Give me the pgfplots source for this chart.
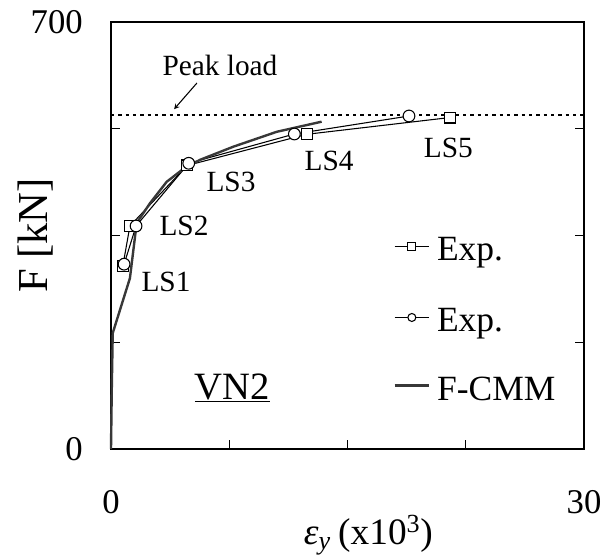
\documentclass[border=0pt]{standalone}
\usepackage{fontspec}
\setmainfont{Liberation Serif}
\usepackage{pgfplots}
\pgfplotsset{compat=1.18}
\begin{document}
\begin{tikzpicture}
\begin{axis}[
  scale only axis,
  width=354.75pt, height=320.25pt,
  xmin=0, xmax=30, ymin=0, ymax=700,
  axis line style={line width=1.1pt},
  xtick={0,7.5,15,22.5,30}, xticklabels={0,,,,30},
  ytick={0,175,350,525,700}, yticklabels={0,,,,700},
  xtick pos=bottom, ytick pos=both,
  tick align=inside,
  major tick length=6.75pt,
  every tick/.style={line width=0.9pt, black},
  /pgf/number format/assume math mode=true,
  ticklabel style={font=\fontsize{26}{26}\selectfont},
  yticklabel style={anchor=east, inner sep=0pt, xshift=-21pt},
  xticklabel style={anchor=north, inner sep=0pt, yshift=-31pt},
  xlabel={\textit{ε}\textsubscript{\textit{y}}\hspace{0.2em}(x10\textsuperscript{3})},
  ylabel={F [kN]},
  xlabel style={font=\fontsize{28}{28}\selectfont, at={(axis description cs:0.681,-0.2248)}, anchor=base east, inner sep=0pt},
  ylabel style={font=\fontsize{32}{32}\selectfont, at={(axis description cs:-0.1332,0.5)}, rotate=0, anchor=base, inner sep=0pt},
  legend style={draw=none, fill=none, inner sep=0pt, at={(axis cs:17.89,339)}, anchor=north west,
    font=\fontsize{26.6}{26.6}\selectfont, row sep=39pt, column sep=5pt,
    nodes={inner sep=0pt, text height=0.7em, text depth=0.05em}},
  legend cell align=left,
  legend image code/.code={\draw[#1, mark size=3pt, mark repeat=2, mark phase=2] plot coordinates {(0pt,7.5pt) (13pt,7.5pt) (26pt,7.5pt)};},
  clip=false,
]
\addplot[black, line width=0.8pt, mark=square*, mark size=4.1pt, mark options={fill=white, line width=0.8pt}]
  coordinates {(0.75,300) (1.2,365.6) (4.83,464.8) (12.41,515.9) (21.5,543.4)};
\addlegendentry{Exp.}
\addplot[black, line width=0.8pt, mark=*, mark size=4.4pt, mark options={fill=white, line width=0.8pt}]
  coordinates {(0.83,303) (1.59,365.6) (4.93,468.4) (11.63,516.4) (18.9,545.9)};
\addlegendentry{Exp.}
\addplot[black!78, line width=1.8pt, no marks]
  coordinates {(0,0) (0.05,100) (0.11,190) (1.2,280) (1.63,370.5) (2.47,402.8) (3.53,438) (4.48,457) (5.64,474) (7.76,495.6) (10.51,520) (13.36,536.6)};
\addlegendentry{F-CMM}
\addplot[black, line width=1.4pt, dash pattern=on 2.5pt off 3pt, forget plot]
  coordinates {(0,547.5) (30,547.5)};
\node[font=\fontsize{22}{22}\selectfont] at (axis cs:3.49,273.8) {LS1};
\node[font=\fontsize{22}{22}\selectfont] at (axis cs:4.63,365.6) {LS2};
\node[font=\fontsize{22}{22}\selectfont] at (axis cs:7.61,437.7) {LS3};
\node[font=\fontsize{22}{22}\selectfont] at (axis cs:13.83,472) {LS4};
\node[font=\fontsize{22}{22}\selectfont] at (axis cs:21.4,493.4) {LS5};
\node[font=\fontsize{22}{22}\selectfont] at (axis cs:6.91,629.5) {Peak load};
\draw[-stealth, line width=0.8pt] (axis cs:5.45,600) -- (axis cs:4.0,557);
\node[font=\fontsize{29}{29}\selectfont] at (axis cs:7.7,100) {\underline{VN2}};
\end{axis}
\pgfresetboundingbox
\path (-83.25pt,-81pt) rectangle (369pt,336.75pt);
\end{tikzpicture}
\end{document}
